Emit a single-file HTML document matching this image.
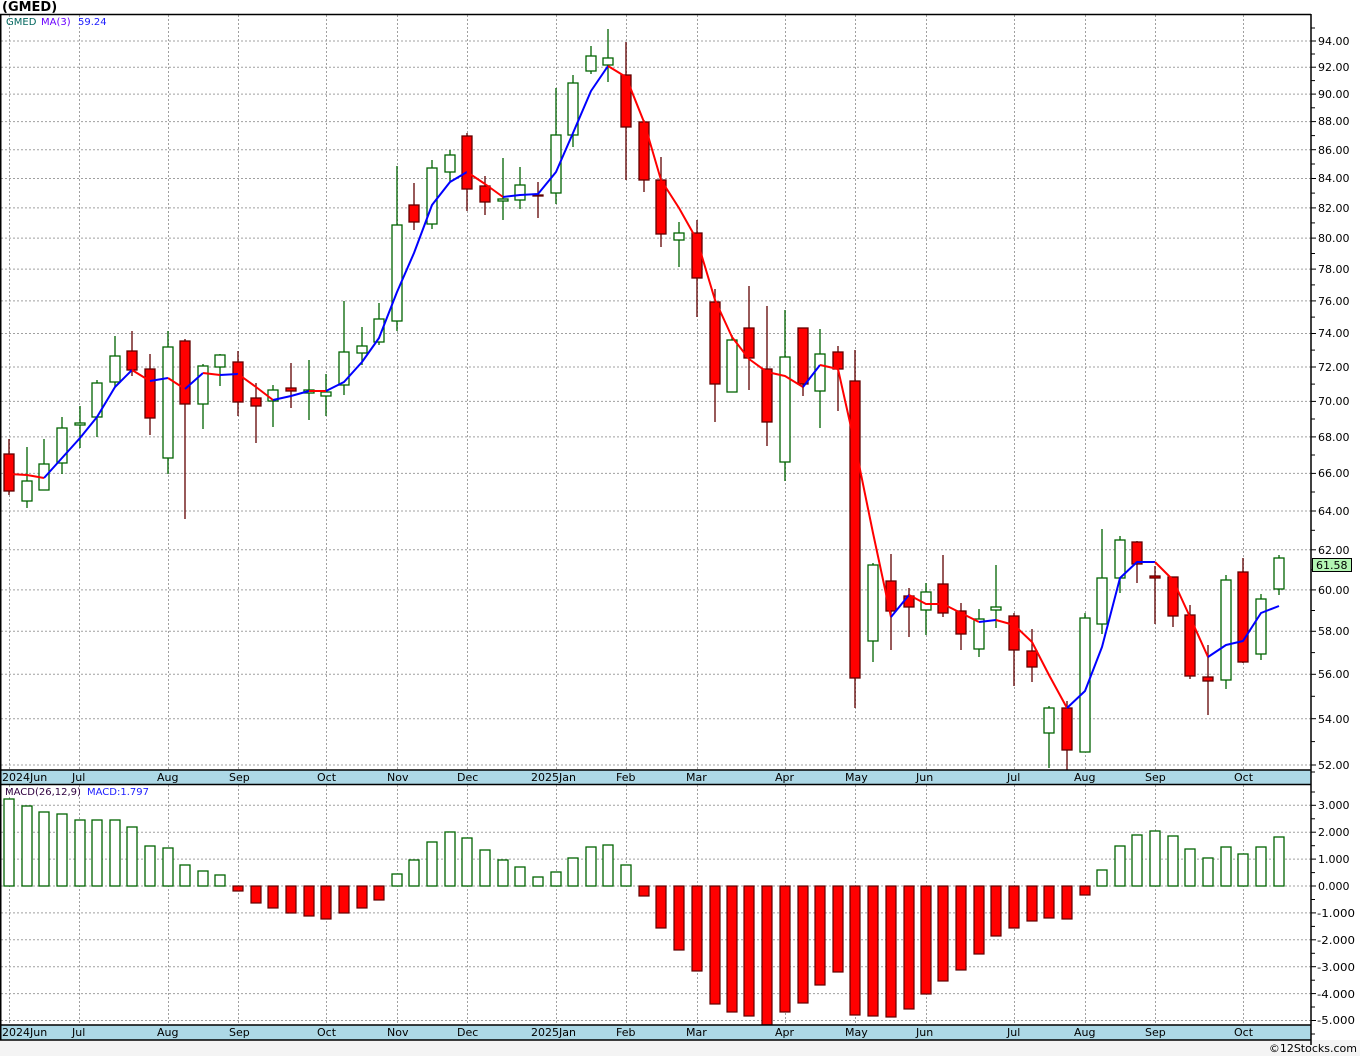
<!DOCTYPE html>
<html><head><meta charset="utf-8"><style>
html,body{margin:0;padding:0;background:#fff;}
svg{display:block;}
text{font-family:"DejaVu Sans","Liberation Sans",sans-serif;font-size:11px;fill:#000;}
.g{stroke:#a0a0a0;stroke-width:1;stroke-dasharray:2,2;fill:none;}
.gc rect{fill:#fff;stroke:#006400;stroke-width:1.3;}
.gc line{stroke:#006400;stroke-width:1.3;}
.rc rect{fill:#ff0000;stroke:#600000;stroke-width:1.3;}
.rc line{stroke:#600000;stroke-width:1.3;}
.mr{fill:#ff0000;stroke:#600000;stroke-width:1.2;}
.mg{fill:#fff;stroke:#006400;stroke-width:1.3;}
</style></head><body>
<svg width="1360" height="1056" viewBox="0 0 1360 1056" xmlns="http://www.w3.org/2000/svg">
<rect x="0" y="0" width="1360" height="1056" fill="#fff"/>
<rect x="0" y="1040" width="1360" height="16" fill="#f4f4f4"/>
<text x="2" y="11" style="font-weight:bold;font-size:13px">(GMED)</text>

<g class="g">
<line x1="1" y1="765" x2="1311" y2="765"/><line x1="1" y1="718.7" x2="1311" y2="718.7"/><line x1="1" y1="674.3" x2="1311" y2="674.3"/><line x1="1" y1="631.3" x2="1311" y2="631.3"/><line x1="1" y1="589.9" x2="1311" y2="589.9"/><line x1="1" y1="549.8" x2="1311" y2="549.8"/><line x1="1" y1="511" x2="1311" y2="511"/><line x1="1" y1="473.4" x2="1311" y2="473.4"/><line x1="1" y1="436.9" x2="1311" y2="436.9"/><line x1="1" y1="401.4" x2="1311" y2="401.4"/><line x1="1" y1="367" x2="1311" y2="367"/><line x1="1" y1="333.5" x2="1311" y2="333.5"/><line x1="1" y1="300.9" x2="1311" y2="300.9"/><line x1="1" y1="269.1" x2="1311" y2="269.1"/><line x1="1" y1="238.1" x2="1311" y2="238.1"/><line x1="1" y1="207.9" x2="1311" y2="207.9"/><line x1="1" y1="178.5" x2="1311" y2="178.5"/><line x1="1" y1="149.7" x2="1311" y2="149.7"/><line x1="1" y1="121.6" x2="1311" y2="121.6"/><line x1="1" y1="94.1" x2="1311" y2="94.1"/><line x1="1" y1="67.2" x2="1311" y2="67.2"/><line x1="1" y1="41" x2="1311" y2="41"/>
<line x1="1" y1="805.3" x2="1311" y2="805.3"/><line x1="1" y1="832.2" x2="1311" y2="832.2"/><line x1="1" y1="859.1" x2="1311" y2="859.1"/><line x1="1" y1="886" x2="1311" y2="886"/><line x1="1" y1="912.9" x2="1311" y2="912.9"/><line x1="1" y1="939.8" x2="1311" y2="939.8"/><line x1="1" y1="966.7" x2="1311" y2="966.7"/><line x1="1" y1="993.6" x2="1311" y2="993.6"/><line x1="1" y1="1020.5" x2="1311" y2="1020.5"/>
<line x1="9.5" y1="15" x2="9.5" y2="770"/><line x1="79.5" y1="15" x2="79.5" y2="770"/><line x1="168.5" y1="15" x2="168.5" y2="770"/><line x1="238.5" y1="15" x2="238.5" y2="770"/><line x1="326.5" y1="15" x2="326.5" y2="770"/><line x1="397.5" y1="15" x2="397.5" y2="770"/><line x1="467.5" y1="15" x2="467.5" y2="770"/><line x1="556.5" y1="15" x2="556.5" y2="770"/><line x1="626.5" y1="15" x2="626.5" y2="770"/><line x1="697.5" y1="15" x2="697.5" y2="770"/><line x1="785.5" y1="15" x2="785.5" y2="770"/><line x1="855.5" y1="15" x2="855.5" y2="770"/><line x1="926.5" y1="15" x2="926.5" y2="770"/><line x1="1014.5" y1="15" x2="1014.5" y2="770"/><line x1="1085.5" y1="15" x2="1085.5" y2="770"/><line x1="1155.5" y1="15" x2="1155.5" y2="770"/><line x1="1243.5" y1="15" x2="1243.5" y2="770"/>
<line x1="9.5" y1="785" x2="9.5" y2="1025"/><line x1="79.5" y1="785" x2="79.5" y2="1025"/><line x1="168.5" y1="785" x2="168.5" y2="1025"/><line x1="238.5" y1="785" x2="238.5" y2="1025"/><line x1="326.5" y1="785" x2="326.5" y2="1025"/><line x1="397.5" y1="785" x2="397.5" y2="1025"/><line x1="467.5" y1="785" x2="467.5" y2="1025"/><line x1="556.5" y1="785" x2="556.5" y2="1025"/><line x1="626.5" y1="785" x2="626.5" y2="1025"/><line x1="697.5" y1="785" x2="697.5" y2="1025"/><line x1="785.5" y1="785" x2="785.5" y2="1025"/><line x1="855.5" y1="785" x2="855.5" y2="1025"/><line x1="926.5" y1="785" x2="926.5" y2="1025"/><line x1="1014.5" y1="785" x2="1014.5" y2="1025"/><line x1="1085.5" y1="785" x2="1085.5" y2="1025"/><line x1="1155.5" y1="785" x2="1155.5" y2="1025"/><line x1="1243.5" y1="785" x2="1243.5" y2="1025"/>
</g>

<g class="rc"><line x1="9" y1="439" x2="9" y2="495"/><rect x="4" y="454" width="10" height="37"/></g>
<g class="gc"><line x1="27" y1="447" x2="27" y2="508"/><rect x="22" y="481" width="10" height="20"/></g>
<g class="gc"><line x1="44" y1="439" x2="44" y2="490"/><rect x="39" y="464" width="10" height="26"/></g>
<g class="gc"><line x1="62" y1="417" x2="62" y2="474"/><rect x="57" y="428" width="10" height="35"/></g>
<g class="gc"><line x1="80" y1="406" x2="80" y2="448"/><rect x="75" y="423" width="10" height="2"/></g>
<g class="gc"><line x1="97" y1="380" x2="97" y2="437"/><rect x="92" y="383" width="10" height="34"/></g>
<g class="gc"><line x1="115" y1="336" x2="115" y2="387"/><rect x="110" y="356" width="10" height="26"/></g>
<g class="rc"><line x1="132" y1="331" x2="132" y2="376"/><rect x="127" y="351" width="10" height="19"/></g>
<g class="rc"><line x1="150" y1="354" x2="150" y2="435"/><rect x="145" y="369" width="10" height="49"/></g>
<g class="gc"><line x1="168" y1="331" x2="168" y2="474"/><rect x="163" y="347" width="10" height="111"/></g>
<g class="rc"><line x1="185" y1="339" x2="185" y2="519"/><rect x="180" y="341" width="10" height="63"/></g>
<g class="gc"><line x1="203" y1="364" x2="203" y2="429"/><rect x="198" y="366" width="10" height="38"/></g>
<g class="gc"><line x1="220" y1="354" x2="220" y2="386"/><rect x="215" y="355" width="10" height="12"/></g>
<g class="rc"><line x1="238" y1="351" x2="238" y2="416"/><rect x="233" y="362" width="10" height="40"/></g>
<g class="rc"><line x1="256" y1="383" x2="256" y2="443"/><rect x="251" y="398" width="10" height="8"/></g>
<g class="gc"><line x1="273" y1="385" x2="273" y2="427"/><rect x="268" y="390" width="10" height="11"/></g>
<g class="rc"><line x1="291" y1="363" x2="291" y2="408"/><rect x="286" y="388" width="10" height="3"/></g>
<g class="gc"><line x1="309" y1="360" x2="309" y2="420"/><rect x="304" y="390" width="10" height="3"/></g>
<g class="gc"><line x1="326" y1="374" x2="326" y2="416"/><rect x="321" y="392" width="10" height="4"/></g>
<g class="gc"><line x1="344" y1="301" x2="344" y2="395"/><rect x="339" y="352" width="10" height="33"/></g>
<g class="gc"><line x1="362" y1="327" x2="362" y2="365"/><rect x="357" y="346" width="10" height="7"/></g>
<g class="gc"><line x1="379" y1="303" x2="379" y2="345"/><rect x="374" y="319" width="10" height="23"/></g>
<g class="gc"><line x1="397" y1="166" x2="397" y2="331"/><rect x="392" y="225" width="10" height="96"/></g>
<g class="rc"><line x1="414" y1="183" x2="414" y2="230"/><rect x="409" y="205" width="10" height="17"/></g>
<g class="gc"><line x1="432" y1="160" x2="432" y2="229"/><rect x="427" y="168" width="10" height="56"/></g>
<g class="gc"><line x1="450" y1="150" x2="450" y2="182"/><rect x="445" y="155" width="10" height="17"/></g>
<g class="rc"><line x1="467" y1="133" x2="467" y2="211"/><rect x="462" y="136" width="10" height="53"/></g>
<g class="rc"><line x1="485" y1="176" x2="485" y2="215"/><rect x="480" y="186" width="10" height="16"/></g>
<g class="gc"><line x1="503" y1="158" x2="503" y2="220"/><rect x="498" y="199" width="10" height="2"/></g>
<g class="gc"><line x1="520" y1="167" x2="520" y2="209"/><rect x="515" y="185" width="10" height="15"/></g>
<g class="rc"><line x1="538" y1="182" x2="538" y2="218"/><rect x="533" y="195" width="10" height="1"/></g>
<g class="gc"><line x1="556" y1="88" x2="556" y2="204"/><rect x="551" y="135" width="10" height="58"/></g>
<g class="gc"><line x1="573" y1="75" x2="573" y2="147"/><rect x="568" y="83" width="10" height="52"/></g>
<g class="gc"><line x1="591" y1="46" x2="591" y2="74"/><rect x="586" y="56" width="10" height="15"/></g>
<g class="gc"><line x1="608" y1="29" x2="608" y2="82"/><rect x="603" y="58" width="10" height="7"/></g>
<g class="rc"><line x1="626" y1="42" x2="626" y2="180"/><rect x="621" y="75" width="10" height="52"/></g>
<g class="rc"><line x1="644" y1="120" x2="644" y2="192"/><rect x="639" y="122" width="10" height="58"/></g>
<g class="rc"><line x1="661" y1="157" x2="661" y2="247"/><rect x="656" y="180" width="10" height="54"/></g>
<g class="gc"><line x1="679" y1="222" x2="679" y2="267"/><rect x="674" y="233" width="10" height="7"/></g>
<g class="rc"><line x1="697" y1="220" x2="697" y2="317"/><rect x="692" y="233" width="10" height="45"/></g>
<g class="rc"><line x1="715" y1="289" x2="715" y2="422"/><rect x="710" y="302" width="10" height="82"/></g>
<g class="gc"><line x1="732" y1="335" x2="732" y2="392"/><rect x="727" y="340" width="10" height="52"/></g>
<g class="rc"><line x1="749" y1="286" x2="749" y2="390"/><rect x="744" y="328" width="10" height="30"/></g>
<g class="rc"><line x1="767" y1="306" x2="767" y2="446"/><rect x="762" y="369" width="10" height="53"/></g>
<g class="gc"><line x1="785" y1="310" x2="785" y2="481"/><rect x="780" y="357" width="10" height="105"/></g>
<g class="rc"><line x1="803" y1="328" x2="803" y2="396"/><rect x="798" y="328" width="10" height="56"/></g>
<g class="gc"><line x1="820" y1="329" x2="820" y2="428"/><rect x="815" y="354" width="10" height="37"/></g>
<g class="rc"><line x1="838" y1="346" x2="838" y2="411"/><rect x="833" y="352" width="10" height="17"/></g>
<g class="rc"><line x1="855" y1="350" x2="855" y2="708"/><rect x="850" y="381" width="10" height="297"/></g>
<g class="gc"><line x1="873" y1="563" x2="873" y2="662"/><rect x="868" y="565" width="10" height="76"/></g>
<g class="rc"><line x1="891" y1="554" x2="891" y2="650"/><rect x="886" y="581" width="10" height="30"/></g>
<g class="rc"><line x1="909" y1="588" x2="909" y2="637"/><rect x="904" y="596" width="10" height="11"/></g>
<g class="gc"><line x1="926" y1="583" x2="926" y2="635"/><rect x="921" y="592" width="10" height="18"/></g>
<g class="rc"><line x1="943" y1="555" x2="943" y2="617"/><rect x="938" y="584" width="10" height="29"/></g>
<g class="rc"><line x1="961" y1="603" x2="961" y2="650"/><rect x="956" y="611" width="10" height="23"/></g>
<g class="gc"><line x1="979" y1="609" x2="979" y2="657"/><rect x="974" y="619" width="10" height="30"/></g>
<g class="gc"><line x1="996" y1="565" x2="996" y2="628"/><rect x="991" y="607" width="10" height="3"/></g>
<g class="rc"><line x1="1014" y1="613" x2="1014" y2="686"/><rect x="1009" y="616" width="10" height="34"/></g>
<g class="rc"><line x1="1032" y1="629" x2="1032" y2="682"/><rect x="1027" y="651" width="10" height="16"/></g>
<g class="gc"><line x1="1049" y1="706" x2="1049" y2="768"/><rect x="1044" y="708" width="10" height="25"/></g>
<g class="rc"><line x1="1067" y1="701" x2="1067" y2="770"/><rect x="1062" y="708" width="10" height="42"/></g>
<g class="gc"><line x1="1085" y1="613" x2="1085" y2="752"/><rect x="1080" y="618" width="10" height="134"/></g>
<g class="gc"><line x1="1102" y1="529" x2="1102" y2="634"/><rect x="1097" y="578" width="10" height="46"/></g>
<g class="gc"><line x1="1120" y1="536" x2="1120" y2="593"/><rect x="1115" y="540" width="10" height="38"/></g>
<g class="rc"><line x1="1137" y1="541" x2="1137" y2="583"/><rect x="1132" y="542" width="10" height="22"/></g>
<g class="rc"><line x1="1155" y1="566" x2="1155" y2="624"/><rect x="1150" y="576" width="10" height="2"/></g>
<g class="rc"><line x1="1173" y1="577" x2="1173" y2="627"/><rect x="1168" y="577" width="10" height="39"/></g>
<g class="rc"><line x1="1190" y1="605" x2="1190" y2="679"/><rect x="1185" y="615" width="10" height="61"/></g>
<g class="rc"><line x1="1208" y1="645" x2="1208" y2="715"/><rect x="1203" y="677" width="10" height="4"/></g>
<g class="gc"><line x1="1226" y1="575" x2="1226" y2="689"/><rect x="1221" y="580" width="10" height="100"/></g>
<g class="rc"><line x1="1243" y1="558" x2="1243" y2="663"/><rect x="1238" y="572" width="10" height="90"/></g>
<g class="gc"><line x1="1261" y1="594" x2="1261" y2="660"/><rect x="1256" y="599" width="10" height="55"/></g>
<g class="gc"><line x1="1279" y1="555" x2="1279" y2="595"/><rect x="1274" y="558" width="10" height="31"/></g>

<g fill="none" stroke-width="2" stroke-linejoin="round">
<polyline stroke="#ff0000" points="9,474 27,475 44,478"/>
<polyline stroke="#0000ff" points="44,478 62,458 80,438 97,417 115,387 132,370"/>
<polyline stroke="#ff0000" points="132,370 150,381"/>
<polyline stroke="#0000ff" points="150,381 168,378"/>
<polyline stroke="#ff0000" points="168,378 185,389"/>
<polyline stroke="#0000ff" points="185,389 203,373"/>
<polyline stroke="#ff0000" points="203,373 220,375"/>
<polyline stroke="#0000ff" points="220,375 238,374"/>
<polyline stroke="#ff0000" points="238,374 256,387 273,400"/>
<polyline stroke="#0000ff" points="273,400 291,396 309,391"/>
<polyline stroke="#ff0000" points="309,391 326,391"/>
<polyline stroke="#0000ff" points="326,391 344,382 362,362 379,338 397,292 414,253 432,205 450,182 467,172"/>
<polyline stroke="#ff0000" points="467,172 485,184 503,197"/>
<polyline stroke="#0000ff" points="503,197 520,195 538,194 556,172 573,133 591,91 608,66"/>
<polyline stroke="#ff0000" points="608,66 626,77 644,122 661,180 679,208 697,240 715,300 732,337 749,359 767,372 785,376 803,387"/>
<polyline stroke="#0000ff" points="803,387 820,365"/>
<polyline stroke="#ff0000" points="820,365 838,369 855,445 873,533 891,617"/>
<polyline stroke="#0000ff" points="891,617 909,595"/>
<polyline stroke="#ff0000" points="909,595 926,604 943,604 961,613 979,622"/>
<polyline stroke="#0000ff" points="979,622 996,620"/>
<polyline stroke="#ff0000" points="996,620 1014,625 1032,642 1049,675 1067,708"/>
<polyline stroke="#0000ff" points="1067,708 1085,691 1102,647 1120,578 1137,562 1155,562"/>
<polyline stroke="#ff0000" points="1155,562 1173,580 1190,617 1208,657"/>
<polyline stroke="#0000ff" points="1208,657 1226,645 1243,641 1261,613 1279,606"/>
</g>

<text x="6" y="25" style="font-size:10px;fill:#00665e">GMED</text>
<text x="41" y="25" style="font-size:10px;fill:#6a00ff">MA(3)</text>
<text x="78" y="25" style="font-size:10px;fill:#2020ff">59.24</text>

<g class="mg">
<rect x="4" y="799" width="10" height="87"/><rect x="22" y="806" width="10" height="80"/><rect x="39" y="812" width="10" height="74"/><rect x="57" y="814" width="10" height="72"/><rect x="75" y="820" width="10" height="66"/><rect x="92" y="820" width="10" height="66"/><rect x="110" y="820" width="10" height="66"/><rect x="127" y="827" width="10" height="59"/><rect x="145" y="846" width="10" height="40"/><rect x="163" y="848" width="10" height="38"/><rect x="180" y="865" width="10" height="21"/><rect x="198" y="871" width="10" height="15"/><rect x="215" y="875" width="10" height="11"/>
<rect x="392" y="874" width="10" height="12"/><rect x="409" y="860" width="10" height="26"/><rect x="427" y="842" width="10" height="44"/><rect x="445" y="832" width="10" height="54"/><rect x="462" y="838" width="10" height="48"/><rect x="480" y="850" width="10" height="36"/><rect x="498" y="860" width="10" height="26"/><rect x="515" y="867" width="10" height="19"/><rect x="533" y="877" width="10" height="9"/><rect x="551" y="872" width="10" height="14"/><rect x="568" y="858" width="10" height="28"/><rect x="586" y="847" width="10" height="39"/><rect x="603" y="845" width="10" height="41"/><rect x="621" y="865" width="10" height="21"/>
<rect x="1097" y="870" width="10" height="16"/><rect x="1115" y="846" width="10" height="40"/><rect x="1132" y="835" width="10" height="51"/><rect x="1150" y="831" width="10" height="55"/><rect x="1168" y="836" width="10" height="50"/><rect x="1185" y="849" width="10" height="37"/><rect x="1203" y="858" width="10" height="28"/><rect x="1221" y="847" width="10" height="39"/><rect x="1238" y="854" width="10" height="32"/><rect x="1256" y="847" width="10" height="39"/><rect x="1274" y="837" width="10" height="49"/>
</g>
<g class="mr">
<rect x="233" y="886" width="10" height="5"/><rect x="251" y="886" width="10" height="17"/><rect x="268" y="886" width="10" height="22"/><rect x="286" y="886" width="10" height="27"/><rect x="304" y="886" width="10" height="30"/><rect x="321" y="886" width="10" height="33"/><rect x="339" y="886" width="10" height="27"/><rect x="357" y="886" width="10" height="22"/><rect x="374" y="886" width="10" height="14"/>
<rect x="639" y="886" width="10" height="10"/><rect x="656" y="886" width="10" height="42"/><rect x="674" y="886" width="10" height="64"/><rect x="692" y="886" width="10" height="85"/><rect x="710" y="886" width="10" height="118"/><rect x="727" y="886" width="10" height="126"/><rect x="744" y="886" width="10" height="130"/><rect x="762" y="886" width="10" height="139"/><rect x="780" y="886" width="10" height="126"/><rect x="798" y="886" width="10" height="117"/><rect x="815" y="886" width="10" height="99"/><rect x="833" y="886" width="10" height="86"/><rect x="850" y="886" width="10" height="129"/><rect x="868" y="886" width="10" height="130"/><rect x="886" y="886" width="10" height="131"/><rect x="904" y="886" width="10" height="123"/><rect x="921" y="886" width="10" height="108"/><rect x="938" y="886" width="10" height="95"/><rect x="956" y="886" width="10" height="84"/><rect x="974" y="886" width="10" height="68"/><rect x="991" y="886" width="10" height="50"/><rect x="1009" y="886" width="10" height="42"/><rect x="1027" y="886" width="10" height="35"/><rect x="1044" y="886" width="10" height="32"/><rect x="1062" y="886" width="10" height="33"/><rect x="1080" y="886" width="10" height="9"/>
</g>
<text x="5" y="795" style="font-size:10px;fill:#300040">MACD(26,12,9)</text>
<text x="87" y="795" style="font-size:10px;fill:#2020ff">MACD:1.797</text>

<rect x="0" y="770" width="1311" height="14" fill="#add8e6"/>
<rect x="0" y="1025" width="1311" height="15" fill="#add8e6"/>
<g stroke="#000" stroke-width="1.5">
<line x1="0" y1="14.5" x2="1311" y2="14.5"/>
<line x1="0" y1="770" x2="1311" y2="770"/>
<line x1="0" y1="784.5" x2="1311" y2="784.5"/>
<line x1="0" y1="1025" x2="1311" y2="1025"/>
<line x1="0" y1="1040" x2="1311" y2="1040"/>
<line x1="0.75" y1="14" x2="0.75" y2="1040"/>
<line x1="1311" y1="14" x2="1311" y2="1045"/>
</g>
<g>
<text x="2" y="781">2024Jun</text><text x="72" y="781">Jul</text><text x="157" y="781">Aug</text><text x="229" y="781">Sep</text><text x="317" y="781">Oct</text><text x="387" y="781">Nov</text><text x="457" y="781">Dec</text><text x="531" y="781">2025Jan</text><text x="616" y="781">Feb</text><text x="686" y="781">Mar</text><text x="775" y="781">Apr</text><text x="845" y="781">May</text><text x="916" y="781">Jun</text><text x="1007" y="781">Jul</text><text x="1074" y="781">Aug</text><text x="1145" y="781">Sep</text><text x="1234" y="781">Oct</text>
<text x="2" y="1036">2024Jun</text><text x="72" y="1036">Jul</text><text x="157" y="1036">Aug</text><text x="229" y="1036">Sep</text><text x="317" y="1036">Oct</text><text x="387" y="1036">Nov</text><text x="457" y="1036">Dec</text><text x="531" y="1036">2025Jan</text><text x="616" y="1036">Feb</text><text x="686" y="1036">Mar</text><text x="775" y="1036">Apr</text><text x="845" y="1036">May</text><text x="916" y="1036">Jun</text><text x="1007" y="1036">Jul</text><text x="1074" y="1036">Aug</text><text x="1145" y="1036">Sep</text><text x="1234" y="1036">Oct</text>
</g>

<g stroke="#000" stroke-width="1">
<line x1="1311" y1="765" x2="1316" y2="765"/><line x1="1311" y1="741.6" x2="1315" y2="741.6"/><line x1="1311" y1="718.7" x2="1316" y2="718.7"/><line x1="1311" y1="696.3" x2="1315" y2="696.3"/><line x1="1311" y1="674.3" x2="1316" y2="674.3"/><line x1="1311" y1="652.6" x2="1315" y2="652.6"/><line x1="1311" y1="631.3" x2="1316" y2="631.3"/><line x1="1311" y1="610.5" x2="1315" y2="610.5"/><line x1="1311" y1="589.9" x2="1316" y2="589.9"/><line x1="1311" y1="569.7" x2="1315" y2="569.7"/><line x1="1311" y1="549.8" x2="1316" y2="549.8"/><line x1="1311" y1="530.3" x2="1315" y2="530.3"/><line x1="1311" y1="511" x2="1316" y2="511"/><line x1="1311" y1="492" x2="1315" y2="492"/><line x1="1311" y1="473.4" x2="1316" y2="473.4"/><line x1="1311" y1="455" x2="1315" y2="455"/><line x1="1311" y1="436.9" x2="1316" y2="436.9"/><line x1="1311" y1="419" x2="1315" y2="419"/><line x1="1311" y1="401.4" x2="1316" y2="401.4"/><line x1="1311" y1="384.1" x2="1315" y2="384.1"/><line x1="1311" y1="367" x2="1316" y2="367"/><line x1="1311" y1="350.1" x2="1315" y2="350.1"/><line x1="1311" y1="333.5" x2="1316" y2="333.5"/><line x1="1311" y1="317.1" x2="1315" y2="317.1"/><line x1="1311" y1="300.9" x2="1316" y2="300.9"/><line x1="1311" y1="284.9" x2="1315" y2="284.9"/><line x1="1311" y1="269.1" x2="1316" y2="269.1"/><line x1="1311" y1="253.5" x2="1315" y2="253.5"/><line x1="1311" y1="238.1" x2="1316" y2="238.1"/><line x1="1311" y1="222.9" x2="1315" y2="222.9"/><line x1="1311" y1="207.9" x2="1316" y2="207.9"/><line x1="1311" y1="193.1" x2="1315" y2="193.1"/><line x1="1311" y1="178.5" x2="1316" y2="178.5"/><line x1="1311" y1="164" x2="1315" y2="164"/><line x1="1311" y1="149.7" x2="1316" y2="149.7"/><line x1="1311" y1="135.6" x2="1315" y2="135.6"/><line x1="1311" y1="121.6" x2="1316" y2="121.6"/><line x1="1311" y1="107.8" x2="1315" y2="107.8"/><line x1="1311" y1="94.1" x2="1316" y2="94.1"/><line x1="1311" y1="80.6" x2="1315" y2="80.6"/><line x1="1311" y1="67.2" x2="1316" y2="67.2"/><line x1="1311" y1="54" x2="1315" y2="54"/><line x1="1311" y1="41" x2="1316" y2="41"/><line x1="1311" y1="28" x2="1315" y2="28"/><line x1="1311" y1="772" x2="1315" y2="772"/>
<line x1="1311" y1="792" x2="1315" y2="792"/><line x1="1311" y1="805.3" x2="1316" y2="805.3"/><line x1="1311" y1="818.8" x2="1315" y2="818.8"/><line x1="1311" y1="832.2" x2="1316" y2="832.2"/><line x1="1311" y1="845.7" x2="1315" y2="845.7"/><line x1="1311" y1="859.1" x2="1316" y2="859.1"/><line x1="1311" y1="872.6" x2="1315" y2="872.6"/><line x1="1311" y1="886" x2="1316" y2="886"/><line x1="1311" y1="899.5" x2="1315" y2="899.5"/><line x1="1311" y1="912.9" x2="1316" y2="912.9"/><line x1="1311" y1="926.4" x2="1315" y2="926.4"/><line x1="1311" y1="939.8" x2="1316" y2="939.8"/><line x1="1311" y1="953.3" x2="1315" y2="953.3"/><line x1="1311" y1="966.7" x2="1316" y2="966.7"/><line x1="1311" y1="980.2" x2="1315" y2="980.2"/><line x1="1311" y1="993.6" x2="1316" y2="993.6"/><line x1="1311" y1="1007" x2="1315" y2="1007"/><line x1="1311" y1="1020.5" x2="1316" y2="1020.5"/><line x1="1311" y1="1034" x2="1315" y2="1034"/>
</g>
<g>
<text x="1318" y="769">52.00</text><text x="1318" y="723">54.00</text><text x="1318" y="678">56.00</text><text x="1318" y="635">58.00</text><text x="1318" y="594">60.00</text><text x="1318" y="554">62.00</text><text x="1318" y="515">64.00</text><text x="1318" y="477">66.00</text><text x="1318" y="441">68.00</text><text x="1318" y="405">70.00</text><text x="1318" y="371">72.00</text><text x="1318" y="337">74.00</text><text x="1318" y="305">76.00</text><text x="1318" y="273">78.00</text><text x="1318" y="242">80.00</text><text x="1318" y="212">82.00</text><text x="1318" y="182">84.00</text><text x="1318" y="154">86.00</text><text x="1318" y="125">88.00</text><text x="1318" y="98">90.00</text><text x="1318" y="71">92.00</text><text x="1318" y="45">94.00</text>
<text x="1318" y="809">3.000</text><text x="1318" y="836">2.000</text><text x="1318" y="863">1.000</text><text x="1318" y="890">0.000</text>
<text x="1317" y="917" textLength="38" lengthAdjust="spacingAndGlyphs">-1.000</text><text x="1317" y="944" textLength="38" lengthAdjust="spacingAndGlyphs">-2.000</text><text x="1317" y="971" textLength="38" lengthAdjust="spacingAndGlyphs">-3.000</text><text x="1317" y="998" textLength="38" lengthAdjust="spacingAndGlyphs">-4.000</text><text x="1317" y="1024" textLength="38" lengthAdjust="spacingAndGlyphs">-5.000</text>
</g>
<rect x="1312.5" y="558.5" width="39" height="13" fill="#b3f5b3" stroke="#000" stroke-width="1"/>
<text x="1316" y="569">61.58</text>
<text x="1357" y="1052" text-anchor="end" style="font-size:11px">©12Stocks.com</text>
</svg>
</body></html>
